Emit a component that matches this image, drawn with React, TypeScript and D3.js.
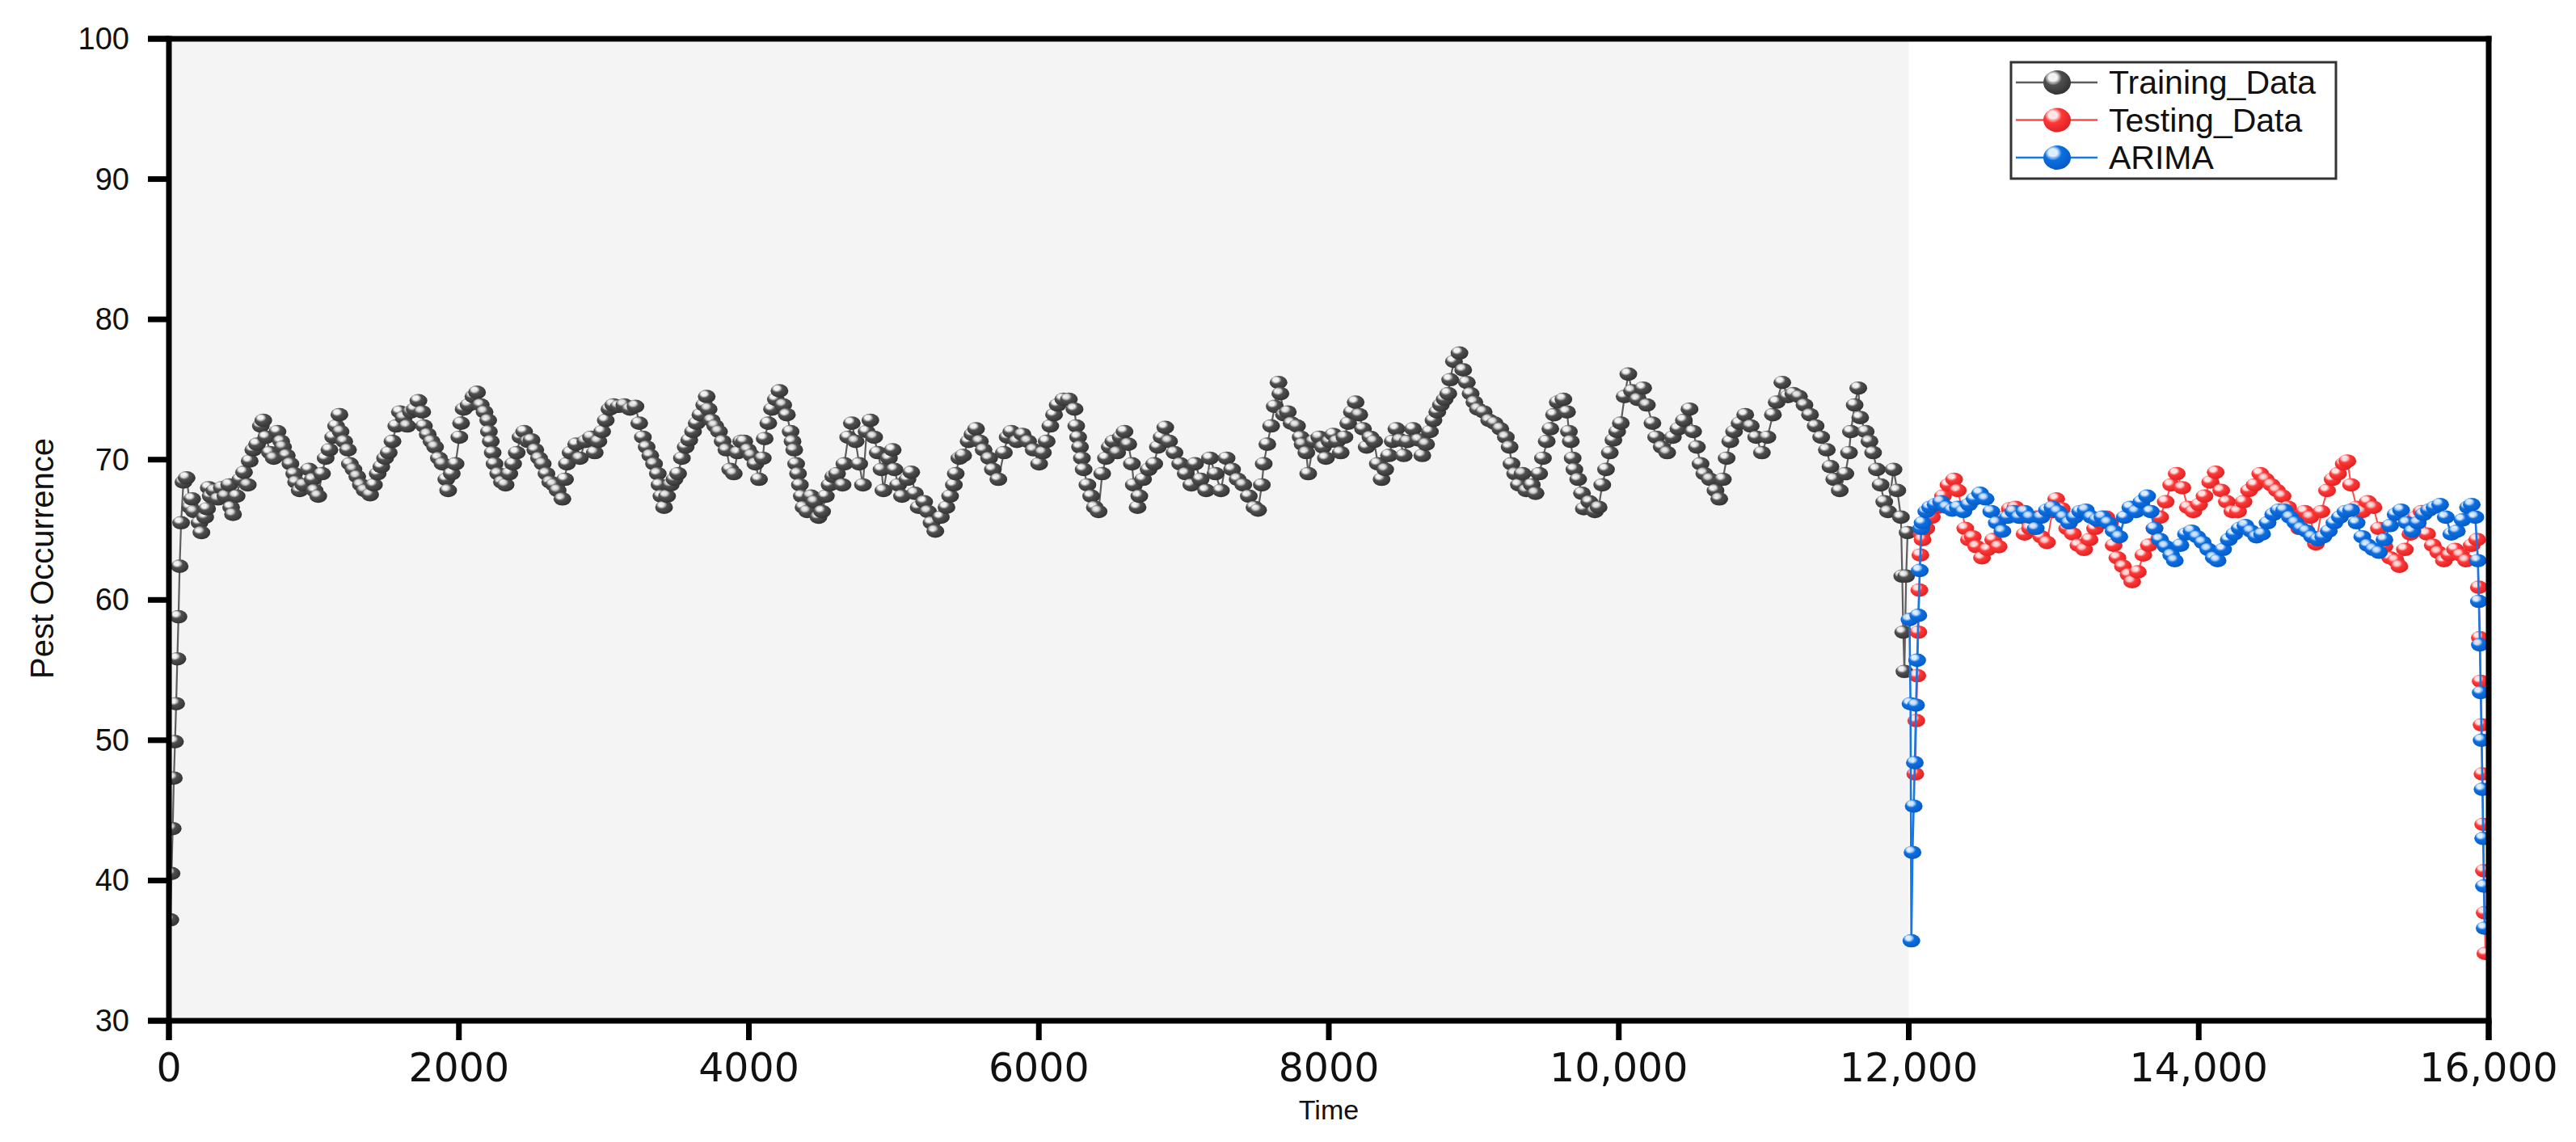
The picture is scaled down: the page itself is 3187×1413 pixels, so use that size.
import React from "react";
import * as d3 from "d3";

type Pt = [number, number];

// ---------- data (time, pest occurrence) ----------
const trainingRamp: Pt[] = [
  [10,37.2],[18,40.5],[26,43.7],[34,47.3],[42,49.9],[50,52.6],[58,55.8],[66,58.8],[74,62.4],[84,65.5],[100,68.4],
];

const trainingA: Pt[] = [
  [122,68.7],[147,66.6],[160,67.2],[173,66.3],[211,65.5],[224,64.8],[250,65.9],[263,66.5],[275,68.0],[288,67.4],
  [314,67.8],[339,67.2],[365,68.0],[390,67.4],[416,68.2],[429,66.6],[442,66.1],[467,67.4],[493,68.6],[518,69.1],
  [544,68.2],[557,69.9],[582,70.7],[608,71.1],[634,72.4],[651,72.8],[672,71.6],[697,70.5],[723,70.1],[749,72.0],
  [774,71.3],[787,70.9],[813,70.3],[838,69.7],[864,69.0],[877,68.4],[902,67.8],[928,68.2],[966,69.3],[992,68.6],
  [1005,67.8],[1030,67.4],[1056,69.0],[1081,70.1],[1107,70.7],[1133,71.6],[1153,72.4],[1176,73.2],[1184,72.0],
  [1209,71.3],[1235,70.7],[1248,69.7],[1273,69.3],[1299,68.8],[1324,68.2],[1350,67.8],[1388,67.5],[1414,68.2],
  [1440,69.0],[1465,69.5],[1491,70.1],[1516,70.5],[1542,71.3],[1568,72.4],[1593,73.4],[1619,73.0],[1644,72.4],
  [1670,73.4],[1696,73.6],[1721,74.2],[1747,73.4],[1759,72.4],[1785,71.8],[1811,71.3],[1836,70.9],[1862,70.1],
  [1887,69.7],[1913,68.6],[1926,67.8],[1951,69.0],[1977,69.7],[2003,71.6],[2015,72.6],[2033,73.6],[2067,73.9],
  [2100,74.5],[2125,74.8],[2151,73.9],[2177,73.4],[2202,72.8],[2207,72.0],[2220,71.3],[2233,70.5],[2246,69.7],
  [2271,69.0],[2297,68.4],[2322,68.2],[2348,69.0],[2374,69.7],[2399,70.5],[2425,71.6],[2450,72.0],[2476,71.3],
  [2501,71.4],[2527,70.7],[2553,70.1],[2578,69.7],[2604,69.0],[2630,68.4],[2655,68.2],[2681,67.8],[2714,67.2],
  [2732,68.6],[2745,69.7],[2770,70.5],[2809,71.1],[2834,70.1],[2873,71.3],[2911,71.6],[2937,70.5],[2962,71.3],
  [2988,72.0],[3013,72.8],[3039,73.6],[3065,73.9],[3103,73.8],[3141,73.9],[3180,73.6],[3218,73.8],[3244,72.6],
  [3269,71.6],[3295,70.9],[3320,70.3],[3346,69.7],[3372,69.0],[3384,68.2],[3397,67.4],[3415,66.6],[3436,67.4],
  [3461,68.2],[3487,68.6],[3512,69.0],[3538,70.1],[3564,70.9],[3589,71.4],[3615,72.0],[3640,72.6],[3666,73.2],
  [3692,73.9],[3709,74.5],[3722,73.6],[3743,72.8],[3768,72.4],[3794,72.0],[3819,71.3],[3845,70.7],[3871,69.3],
  [3896,69.0],[3922,70.5],[3947,71.3],
];

const trainingB: Pt[] = [
  [3968,71.3],[3994,70.7],[4019,70.3],[4045,69.7],[4070,68.6],[4096,70.1],[4109,71.5],[4134,72.6],[4160,73.6],
  [4186,74.3],[4211,74.9],[4237,73.9],[4262,73.2],[4288,72.0],[4301,71.3],[4313,70.7],[4326,69.7],[4339,69.0],
  [4352,68.2],[4365,67.4],[4377,66.6],[4403,66.3],[4429,67.4],[4454,67.0],[4480,65.9],[4505,66.3],[4531,67.4],
  [4557,68.2],[4582,68.8],[4608,69.0],[4646,68.2],[4659,69.7],[4685,71.6],[4710,72.6],[4736,71.3],[4761,69.7],
  [4787,68.2],[4812,72.0],[4838,72.8],[4864,71.6],[4889,70.5],[4915,69.3],[4928,67.8],[4966,70.1],[4992,70.7],
  [5004,69.3],[5030,68.2],[5056,67.4],[5094,68.6],[5120,69.1],[5145,67.6],[5171,66.6],[5209,67.0],[5235,66.3],
  [5260,65.5],[5286,64.9],[5324,65.9],[5363,66.6],[5388,67.4],[5414,68.2],[5427,69.0],[5452,70.1],[5478,70.3],
  [5516,71.3],[5542,71.8],[5567,72.2],[5593,71.3],[5619,70.7],[5657,70.1],[5683,69.3],[5721,68.6],[5759,70.5],
  [5785,71.6],[5810,72.0],[5849,71.3],[5887,71.8],[5926,71.3],[5964,70.7],[6002,69.7],[6028,70.5],[6054,71.3],
  [6079,72.4],[6105,73.2],[6130,73.9],[6169,74.3],[6207,74.3],[6246,73.6],[6258,72.4],[6271,71.6],[6284,70.9],
  [6297,70.1],[6309,69.3],[6335,68.2],[6361,67.4],[6386,66.6],[6412,66.3],[6437,69.0],[6463,70.1],[6489,70.9],
  [6514,71.3],[6540,70.5],[6565,71.6],[6591,72.0],[6617,71.1],[6642,69.7],[6655,68.2],[6681,66.6],[6693,67.4],
  [6719,68.6],[6757,69.3],[6796,69.7],[6821,70.9],[6847,71.6],[6872,72.3],[6898,71.3],[6936,70.5],[6975,69.7],
  [7013,69.0],[7052,68.2],[7077,69.7],[7116,68.6],[7154,67.8],[7180,70.1],[7218,69.0],[7256,67.8],[7295,70.1],
  [7333,69.3],[7371,68.6],[7410,68.2],[7448,67.4],[7487,66.6],[7512,66.4],[7538,68.2],[7551,69.7],[7576,71.1],
  [7602,72.4],[7627,73.8],[7653,75.5],[7666,74.7],[7691,73.2],[7717,73.4],[7743,72.6],[7781,72.4],[7806,71.6],
  [7819,71.1],[7845,70.5],[7858,69.0],[7896,71.3],[7934,71.6],[7960,70.9],
];

const trainingC: Pt[] = [
  [7980,70.1],[8006,71.3],[8031,71.8],[8057,71.3],[8082,70.5],[8108,71.6],[8134,72.6],[8159,73.4],[8185,74.1],
  [8210,73.2],[8236,72.2],[8261,70.9],[8287,71.6],[8313,71.3],[8338,69.7],[8364,68.6],[8389,69.3],[8415,70.3],
  [8441,71.3],[8466,72.2],[8492,71.4],[8517,70.3],[8543,71.3],[8581,72.2],[8620,71.4],[8645,70.3],[8671,71.1],
  [8697,72.0],[8722,72.8],[8748,73.4],[8773,73.9],[8799,74.3],[8824,74.7],[8837,75.7],[8863,77.0],[8901,77.6],
  [8927,76.4],[8952,75.5],[8978,74.7],[9004,74.1],[9029,73.6],[9068,73.4],[9106,72.8],[9144,72.6],[9183,72.2],
  [9221,71.6],[9247,70.9],[9260,69.7],[9285,69.0],[9311,68.2],[9336,69.0],[9362,67.8],[9400,68.2],[9426,67.6],
  [9451,69.0],[9477,70.1],[9503,71.3],[9528,72.2],[9554,73.2],[9579,74.1],[9618,74.3],[9643,73.4],[9656,72.0],
  [9669,71.3],[9682,70.1],[9694,69.3],[9720,68.6],[9746,67.6],[9759,66.5],[9797,67.0],[9835,66.3],[9861,66.6],
  [9886,68.2],[9912,69.3],[9938,70.5],[9963,71.4],[9989,72.0],[10014,72.6],[10040,74.5],[10066,76.1],[10091,74.9],
  [10130,74.3],[10168,75.1],[10194,73.9],[10232,72.6],[10258,71.6],[10296,70.9],[10334,70.5],[10373,71.6],
  [10411,72.2],[10449,72.8],[10488,73.6],[10513,72.0],[10539,70.9],[10564,69.7],[10590,69.0],[10629,68.6],
  [10667,67.8],[10693,67.2],[10718,68.6],[10744,70.1],[10769,71.3],[10795,72.0],[10833,72.6],[10872,73.2],
  [10910,72.4],[10948,71.6],[10987,70.5],[11025,71.6],[11063,73.2],[11089,74.1],[11128,75.5],[11166,74.5],
  [11204,74.7],[11243,74.5],[11281,73.9],[11319,73.2],[11358,72.4],[11396,71.6],[11435,70.7],[11460,69.5],
  [11486,68.6],[11524,67.8],[11563,69.0],[11588,70.5],[11601,72.0],[11627,73.9],[11652,75.1],[11665,73.0],
  [11703,72.0],[11729,71.3],[11754,70.5],[11780,69.3],[11806,68.2],[11831,67.0],[11857,66.3],[11895,69.3],
  [11921,67.8],[11946,65.9],[11955,61.7],[11962,57.7],[11970,54.9],[11982,61.7],[11992,64.8],
];

const testingData: Pt[] = [
  [12045,47.6],[12052,51.4],[12059,54.6],[12066,57.7],[12073,60.7],[12080,63.2],[12088,64.7],[12095,64.3],
  [12121,65.1],[12159,65.9],[12198,66.6],[12236,67.4],[12274,68.2],[12313,68.6],[12338,67.8],[12364,66.6],
  [12390,65.1],[12415,64.3],[12441,64.5],[12466,63.8],[12505,63.0],[12543,63.6],[12582,64.3],[12620,63.8],
  [12658,65.9],[12697,66.5],[12735,66.6],[12773,65.9],[12799,64.7],[12837,65.1],[12876,65.9],[12914,64.5],
  [12953,64.1],[12991,66.3],[13017,67.2],[13055,66.5],[13093,65.1],[13132,64.7],[13170,63.9],[13209,63.6],
  [13247,64.3],[13285,65.1],[13324,65.5],[13362,65.9],[13388,65.5],[13413,63.9],[13439,63.0],[13477,62.4],
  [13516,61.8],[13541,61.3],[13580,62.0],[13618,63.2],[13656,63.9],[13695,65.1],[13733,65.9],[13772,67.0],
  [13810,68.2],[13848,69.0],[13887,68.0],[13925,66.6],[13963,66.3],[14002,66.8],[14040,67.4],[14079,68.4],
  [14117,69.1],[14155,67.8],[14194,67.0],[14232,66.3],[14271,66.3],[14309,67.0],[14347,67.8],[14386,68.2],
  [14424,69.0],[14462,68.6],[14501,68.2],[14539,67.8],[14578,67.4],[14616,66.6],[14654,65.9],[14693,65.1],
  [14731,66.3],[14769,65.9],[14808,64.0],[14846,66.3],[14885,67.8],[14923,68.6],[14961,69.0],[15000,69.7],
  [15025,69.9],[15051,68.2],[15089,66.6],[15128,66.3],[15166,67.0],[15205,66.6],[15243,65.1],[15281,63.8],
  [15320,63.0],[15358,62.8],[15384,62.4],[15422,63.6],[15460,64.7],[15499,65.9],[15537,66.3],[15575,64.7],
  [15614,63.9],[15652,63.4],[15691,62.8],[15729,63.2],[15768,63.6],[15806,63.2],[15844,62.8],[15883,63.9],
  [15921,64.3],[15932,60.9],[15939,57.3],[15945,54.2],[15951,51.1],[15957,47.6],[15962,44.0],[15967,40.7],
  [15972,37.7],[15977,34.8],
];

const arimaData: Pt[] = [
  [12005,58.6],[12012,52.6],[12018,35.7],[12026,42.0],[12034,45.3],[12042,48.4],[12050,52.5],[12058,55.7],
  [12066,58.9],[12076,62.1],[12086,65.1],[12095,65.5],[12121,66.3],[12147,66.6],[12185,66.8],[12223,67.0],
  [12262,66.6],[12300,66.4],[12338,66.6],[12377,66.3],[12415,66.8],[12454,67.2],[12492,67.6],[12530,67.2],
  [12569,66.3],[12607,65.5],[12646,64.9],[12684,65.9],[12722,66.3],[12761,65.9],[12799,66.3],[12837,65.9],
  [12876,65.1],[12914,65.9],[12953,66.4],[12991,66.6],[13029,66.3],[13068,65.9],[13106,65.5],[13145,65.9],
  [13183,66.3],[13221,66.4],[13260,65.9],[13298,65.7],[13336,65.9],[13375,65.5],[13413,64.9],[13452,64.5],
  [13490,65.9],[13528,66.6],[13567,66.3],[13605,67.0],[13644,67.4],[13669,66.3],[13695,65.1],[13733,64.3],
  [13772,63.8],[13810,63.2],[13835,62.8],[13874,63.9],[13912,64.7],[13951,64.9],[13989,64.5],[14027,64.1],
  [14066,63.6],[14104,63.0],[14130,62.8],[14168,63.6],[14207,64.3],[14245,64.7],[14283,65.1],[14322,65.3],
  [14360,64.9],[14398,64.5],[14437,64.7],[14475,65.5],[14514,66.1],[14552,66.4],[14590,66.4],[14629,65.9],
  [14667,65.5],[14706,65.1],[14744,64.9],[14782,64.5],[14821,64.3],[14859,64.5],[14897,64.9],[14936,65.5],
  [14974,65.9],[15013,66.3],[15051,66.4],[15089,65.5],[15128,64.5],[15166,63.9],[15205,63.6],[15243,63.4],
  [15281,64.3],[15320,65.3],[15358,66.1],[15396,66.4],[15435,65.5],[15473,64.9],[15511,65.5],[15550,66.1],
  [15588,66.4],[15627,66.6],[15665,66.8],[15704,65.9],[15742,64.7],[15780,64.9],[15819,65.7],[15857,66.6],
  [15883,66.8],[15908,65.9],[15925,62.8],[15932,59.9],[15939,56.8],[15945,53.4],[15951,50.0],[15957,46.5],
  [15962,43.0],[15967,39.6],[15972,36.6],
];

const trainingData: Pt[] = [...trainingRamp, ...trainingA, ...trainingB, ...trainingC];

const xTicks = [0, 2000, 4000, 6000, 8000, 10000, 12000, 14000, 16000];
const xTickLabels = ["0", "2000", "4000", "6000", "8000", "10,000", "12,000", "14,000", "16,000"];
const yTicks = [30, 40, 50, 60, 70, 80, 90, 100];
const trainingEnd = 12000;
const seriesNames = ["Training_Data", "Testing_Data", "ARIMA"];

// ---------- layout ----------
const W = 3187, H = 1413;
const L = 209, R = 3079, T = 48, B = 1263;

const series = [
  { name: seriesNames[0], data: trainingData, base: "#505050", hi: "#f2f2f2", dark: "#353535", line: "#5e5e5e", lw: 2.2, id: "gGray" },
  { name: seriesNames[1], data: testingData, base: "#ff3838", hi: "#ffe4e4", dark: "#e02424", line: "#ff4a4a", lw: 2, id: "gRed" },
  { name: seriesNames[2], data: arimaData, base: "#0b6fe2", hi: "#dcedff", dark: "#075cc8", line: "#1677e6", lw: 2.6, id: "gBlue" },
];

export default function App() {
  const x = d3.scaleLinear().domain([0, 16000]).range([L, R]);
  const y = d3.scaleLinear().domain([30, 100]).range([B, T]);
  const line = d3.line<Pt>().x(d => x(d[0])).y(d => y(d[1]));
  const sans = "'Liberation Sans', Arial, sans-serif";
  const dejavu = "'DejaVu Sans', Verdana, sans-serif";
  const legendRows = [102, 148.5, 195];

  return (
    <svg width={W} height={H} style={{ position: "absolute", left: 0, top: 0, background: "#fff" }}>
      <defs>
        {series.map(s => (
          <radialGradient key={s.id} id={s.id} cx="0.38" cy="0.34" r="0.64" fx="0.34" fy="0.28">
            <stop offset="0%" stopColor={s.hi} />
            <stop offset="24%" stopColor={s.hi} stopOpacity={0.85} />
            <stop offset="48%" stopColor={s.base} />
            <stop offset="100%" stopColor={s.dark} />
          </radialGradient>
        ))}
        <clipPath id="plotClip">
          <rect x={L} y={T} width={R - L} height={B - T} />
        </clipPath>
      </defs>
      <rect x={0} y={0} width={W} height={H} fill="#fff" />
      {/* shaded training area */}
      <rect x={L} y={T} width={x(trainingEnd) - L} height={B - T} fill="#f4f4f4" />

      <g clipPath="url(#plotClip)">
        {series.map(s => (
          <g key={s.name}>
            <path d={line(s.data) || ""} fill="none" stroke={s.line} strokeWidth={s.lw} />
            {s.data.map((d, i) => (
              <ellipse key={i} cx={x(d[0])} cy={y(d[1])} rx={11} ry={8.3} fill={`url(#${s.id})`} />
            ))}
          </g>
        ))}
      </g>

      {/* frame */}
      <g stroke="#000" strokeWidth={7} fill="none" strokeLinecap="butt">
        <line x1={L} y1={T - 3.5} x2={L} y2={B + 24} />
        <line x1={R} y1={T - 3.5} x2={R} y2={B + 24} />
        <line x1={L - 26} y1={T} x2={R + 3.5} y2={T} />
        <line x1={L - 26} y1={B} x2={R + 3.5} y2={B} />
        {yTicks.map(t => (
          <line key={t} x1={L - 26} y1={y(t)} x2={L} y2={y(t)} />
        ))}
        {xTicks.map(t => (
          <line key={t} x1={x(t)} y1={B} x2={x(t)} y2={B + 24} />
        ))}
      </g>

      {/* y tick labels */}
      {yTicks.map(t => (
        <text key={t} x={160} y={y(t)} textAnchor="end" dominantBaseline="central" fontFamily={sans} fontSize={38} fill="#111">
          {t}
        </text>
      ))}
      {/* x tick labels */}
      {xTicks.map((t, i) => (
        <text key={t} x={x(t)} y={1338} textAnchor="middle" fontFamily={dejavu} fontSize={49} fill="#111">
          {xTickLabels[i]}
        </text>
      ))}

      <text x={(L + R) / 2} y={1385} textAnchor="middle" fontFamily={sans} fontSize={34} fill="#111">Time</text>
      <text transform="translate(52, 691) rotate(-90)" textAnchor="middle" dominantBaseline="central" fontFamily={sans} fontSize={40} fill="#111">
        Pest Occurrence
      </text>

      {/* legend */}
      <rect x={2488} y={77} width={402} height={144} fill="#fff" stroke="#333" strokeWidth={3} />
      {series.map((s, i) => (
        <g key={s.name}>
          <line x1={2494} x2={2595} y1={legendRows[i]} y2={legendRows[i]} stroke={s.line} strokeWidth={2.5} />
          <ellipse cx={2545} cy={legendRows[i]} rx={17} ry={15} fill={`url(#${s.id})`} />
          <text x={2609} y={legendRows[i]} dominantBaseline="central" fontFamily={sans} fontSize={41} fill="#111">
            {s.name}
          </text>
        </g>
      ))}
    </svg>
  );
}
